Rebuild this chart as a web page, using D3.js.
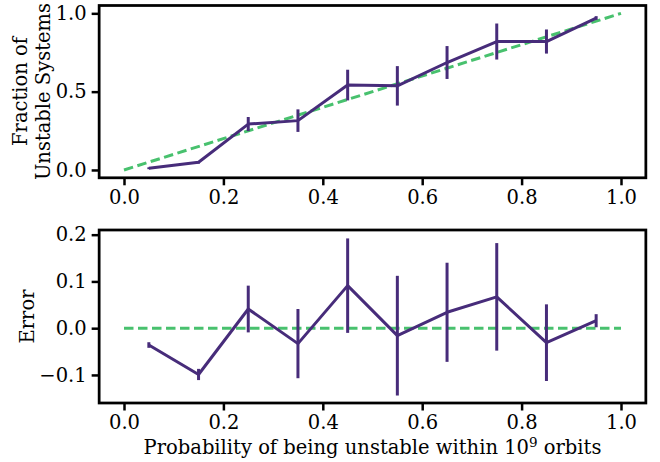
<!DOCTYPE html>
<html>
  <head>
    <meta charset="utf-8">
    <style>
      body { margin: 0; background: #fff; }
      text { font-family: "DejaVu Serif", serif; }
    </style>
  </head>
  <body>
    <script src="https://d3js.org/d3.v7.min.js"></script>
    <script>
      // data
      var bins = [0.05, 0.15, 0.25, 0.35, 0.45, 0.55, 0.65, 0.75, 0.85, 0.95];
      var fraction = [0.011, 0.049, 0.293, 0.315, 0.542, 0.537, 0.686, 0.820, 0.820, 0.970];
      var fractionErr = [0.006, 0.008, 0.045, 0.072, 0.098, 0.126, 0.105, 0.115, 0.077, 0.012];
      var error = [-0.036, -0.099, 0.041, -0.033, 0.091, -0.016, 0.034, 0.067, -0.031, 0.016];
      var errorErr = [0.006, 0.012, 0.050, 0.074, 0.101, 0.128, 0.106, 0.115, 0.082, 0.014];
      var xTicks = [0.0, 0.2, 0.4, 0.6, 0.8, 1.0];
      var topTicks = [0.0, 0.5, 1.0];
      var bottomTicks = [-0.1, 0.0, 0.1, 0.2];

      var purple = "#472c7a", green = "#48c16e";
      var fs = "19.5px";
      var svg, x;

      main();

      function main(){
        svg = d3.select("body").append("svg")
          .attr("width", 660)
          .attr("height", 462);

        x = d3.scaleLinear().domain([-0.05, 1.05]).range([99.15, 645.85]);

        // top panel
        var yTop = d3.scaleLinear().domain([-0.05, 1.05]).range([177.8, 5.5]);
        panel(yTop, topTicks, d3.format(".1f"), fraction, fractionErr,
          [[0, 0], [1, 1]]);
        svg.append("text")
          .attr("transform", "translate(27,91.5) rotate(-90)")
          .attr("text-anchor", "middle")
          .style("font-size", fs)
          .text("Fraction of");
        svg.append("text")
          .attr("transform", "translate(50,91.5) rotate(-90)")
          .attr("text-anchor", "middle")
          .style("font-size", fs)
          .text("Unstable Systems");

        // bottom panel
        var yBot = d3.scaleLinear().domain([-0.16, 0.21]).range([403, 230]);
        panel(yBot, bottomTicks, function(d){ return d3.format(".1f")(d).replace("-", "\u2212"); },
          error, errorErr, [[0, 0], [1, 0]]);
        svg.append("text")
          .attr("transform", "translate(34,316.5) rotate(-90)")
          .attr("text-anchor", "middle")
          .style("font-size", fs)
          .text("Error");

        var xl = svg.append("text")
          .attr("x", 372.5)
          .attr("y", 454)
          .attr("text-anchor", "middle")
          .style("font-size", fs)
          .text("Probability of being unstable within 10");
        xl.append("tspan").attr("dy", -7).style("font-size", "13.5px").text("9");
        xl.append("tspan").attr("dy", 7).text(" orbits");
      }

      function panel(y, ticks, fmt, vals, errs, ref){
        var r = y.range();
        var g = svg.append("g");

        // reference line
        g.append("line")
          .attr("x1", x(ref[0][0])).attr("y1", y(ref[0][1]))
          .attr("x2", x(ref[1][0])).attr("y2", y(ref[1][1]))
          .style("stroke", green)
          .style("stroke-width", 3)
          .style("stroke-dasharray", "9.5,4.5");

        // error bars
        g.selectAll(".eb").data(bins).enter().append("line")
          .attr("x1", function(d){ return x(d); })
          .attr("x2", function(d){ return x(d); })
          .attr("y1", function(d, i){ return y(vals[i] - errs[i]); })
          .attr("y2", function(d, i){ return y(vals[i] + errs[i]); })
          .style("stroke", purple)
          .style("stroke-width", 3);

        var line = d3.line()
          .x(function(d){ return x(d); })
          .y(function(d, i){ return y(vals[i]); });
        g.append("path")
          .datum(bins)
          .attr("d", line)
          .style("fill", "none")
          .style("stroke", purple)
          .style("stroke-width", 3)
          .style("stroke-linejoin", "round");

        // axes
        var ax = g.append("g")
          .attr("transform", "translate(0," + r[0] + ")")
          .call(d3.axisBottom(x).tickValues(xTicks).tickFormat(d3.format(".1f"))
            .tickSize(7.5).tickPadding(4.5).tickSizeOuter(0));
        var ay = g.append("g")
          .attr("transform", "translate(" + x.range()[0] + ",0)")
          .call(d3.axisLeft(y).tickValues(ticks).tickFormat(fmt)
            .tickSize(7.5).tickPadding(5).tickSizeOuter(0));
        [ax, ay].forEach(function(a){
          a.select(".domain").remove();
          a.selectAll("line").style("stroke", "#000").style("stroke-width", 2.5);
          a.selectAll("text").style("font-size", fs).style("fill", "#000")
            .style("font-family", "DejaVu Serif, serif");
        });

        // frame
        g.append("rect")
          .attr("x", x.range()[0]).attr("y", r[1])
          .attr("width", x.range()[1] - x.range()[0])
          .attr("height", r[0] - r[1])
          .style("fill", "none")
          .style("stroke", "#000")
          .style("stroke-width", 2.75);
      }
    </script>
  </body>
</html>
